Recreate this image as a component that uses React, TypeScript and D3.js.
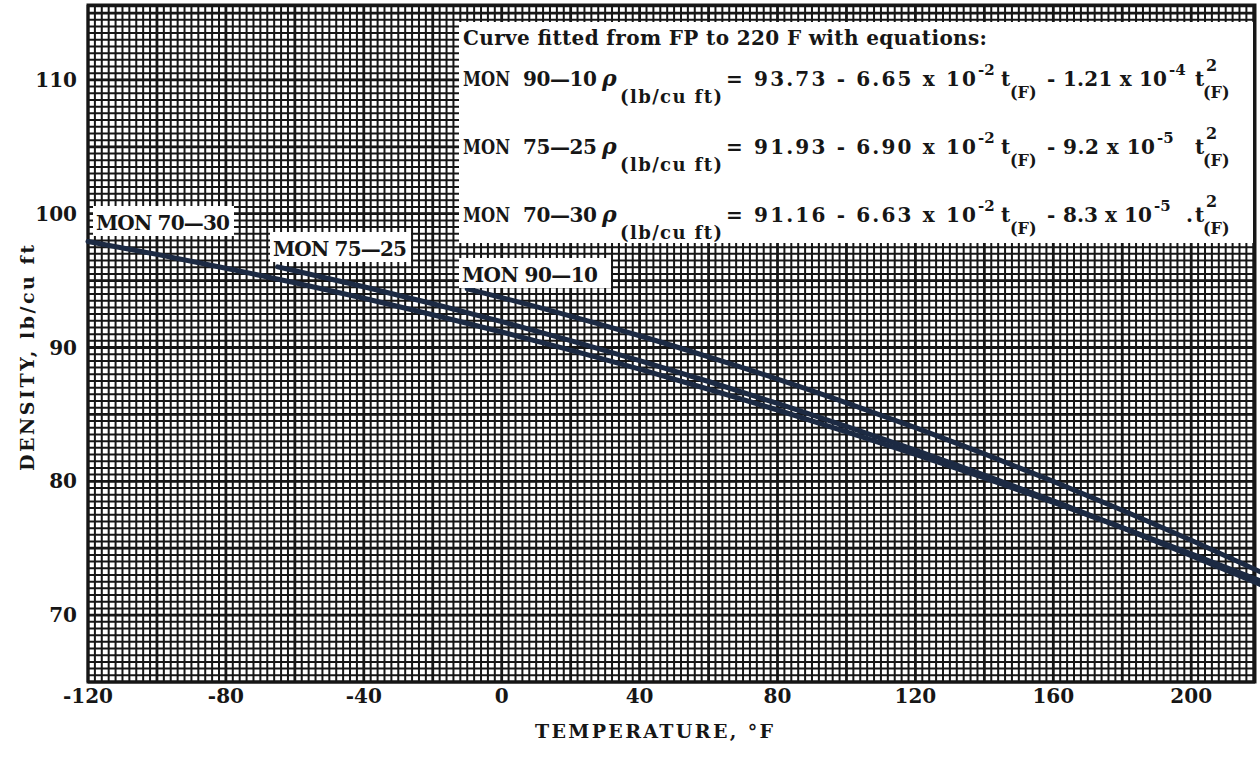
import React from "react";
import * as d3 from "d3";

const W = 1260;
const H = 757;

// Axis tick values
const xTickValues = [-120, -80, -40, 0, 40, 80, 120, 160, 200];
const yTickValues = [70, 80, 90, 100, 110];

// MON 90-10 density curve (°F, lb/cu ft)
const mon9010Temp = [-10, 0, 20, 40, 60, 80, 100, 120, 140, 160, 180, 200, 220];
const mon9010Rho = [94.38, 93.73, 92.35, 90.88, 89.3, 87.64, 85.87, 84.01, 82.05, 79.99, 77.84, 75.59, 73.24];

// MON 75-25 density curve
const mon7525Temp = [-65, -60, -40, -20, 0, 20, 40, 60, 80, 100, 120, 140, 160, 180, 200, 220];
const mon7525Rho = [96.03, 95.74, 94.54, 93.27, 91.93, 90.51, 89.02, 87.46, 85.82, 84.11, 82.33, 80.47, 78.54, 76.53, 74.45, 72.3];

// MON 70-30 density curve
const mon7030Temp = [-120, -100, -80, -60, -40, -20, 0, 20, 40, 60, 80, 100, 120, 140, 160, 180, 200, 220];
const mon7030Rho = [97.92, 96.96, 95.93, 94.84, 93.68, 92.45, 91.16, 89.8, 88.38, 86.88, 85.33, 83.7, 82.01, 80.25, 78.43, 76.54, 74.58, 72.56];

const seriesNames = ["MON 90—10", "MON 75—25", "MON 70—30"];

const FONT = "'DejaVu Serif', 'Liberation Serif', serif";
const INK = "#161616";
const CURVE = "#1c2a43";

const left = 88;
const right = 1255;
const top = 5;
const bottom = 682;

export default function App() {
  const x = d3.scaleLinear().domain([-120, 218.5]).range([left, right]);
  const y = d3.scaleLinear().domain([65, 115.6]).range([bottom, top]);

  const minorX = d3.range(-120, 218.6, 2);
  const minorY = d3.range(65, 115.6, 0.5);

  const line = d3
    .line<[number, number]>()
    .x((d) => x(d[0]))
    .y((d) => y(d[1]))
    .curve(d3.curveMonotoneX);

  const curves = [
    d3.zip(mon9010Temp, mon9010Rho) as [number, number][],
    d3.zip(mon7525Temp, mon7525Rho) as [number, number][],
    d3.zip(mon7030Temp, mon7030Rho) as [number, number][],
  ];

  const isMajorX = (v: number) => Math.abs(((v + 120) % 20 + 20) % 20) < 1e-6;
  const isMajorY = (v: number) => Math.abs((v % 5 + 5) % 5) < 1e-6;

  // equation rows in the key box
  const rows = [
    { name: "90—10", a: "= 93.73 - 6.65 x 10", b: "1.21 x 10", e: "-4", dot: false },
    { name: "75—25", a: "= 91.93 - 6.90 x 10", b: "9.2 x 10", e: "-5", dot: false },
    { name: "70—30", a: "= 91.16 - 6.63 x 10", b: "8.3 x 10", e: "-5", dot: true },
  ];
  const rowBase = [86, 154, 222];
  const bEnd = [1167, 1155, 1152];

  return (
    <svg
      width={W}
      height={H}
      style={{ position: "absolute", left: 0, top: 0, background: "#fff" }}
      fontFamily={FONT}
      fontWeight="bold"
    >
      <rect x={0} y={0} width={W} height={H} fill="#fff" />

      {/* graph-paper grid */}
      <g>
        {minorY.map((v) => (
          <line
            key={"gy" + v}
            x1={left}
            x2={right}
            y1={y(v)}
            y2={y(v)}
            stroke={INK}
            strokeWidth={isMajorY(v) ? 2.8 : 2}
          />
        ))}
        {minorX.map((v) => (
          <line
            key={"gx" + v}
            x1={x(v)}
            x2={x(v)}
            y1={top}
            y2={bottom}
            stroke={INK}
            strokeWidth={isMajorX(v) ? 2.8 : 2}
          />
        ))}
        <rect
          x={left}
          y={top}
          width={right - left}
          height={bottom - top}
          fill="none"
          stroke={INK}
          strokeWidth={3}
        />
      </g>

      {/* density curves */}
      {curves.map((c, i) => (
        <path
          key={seriesNames[i]}
          d={line(c) || ""}
          fill="none"
          stroke={CURVE}
          strokeWidth={5}
          strokeLinecap="round"
        />
      ))}

      {/* curve labels */}
      <g fontSize={20} fill={INK}>
        <rect x={93} y={206} width={141} height={30} fill="#fff" />
        <text x={96} y={230} textLength={134} lengthAdjust="spacing">
          {seriesNames[2]}
        </text>
        <rect x={270} y={232} width={141} height={30} fill="#fff" />
        <text x={273} y={256} textLength={134} lengthAdjust="spacing">
          {seriesNames[1]}
        </text>
        <rect x={459} y={258} width={152} height={30} fill="#fff" />
        <text x={462} y={282} textLength={136} lengthAdjust="spacing">
          {seriesNames[0]}
        </text>
      </g>

      {/* key box with fitted equations */}
      <rect x={459} y={22} width={794} height={221} fill="#fff" />
      <text x={463} y={45} fontSize={20} fill={INK} textLength={524} lengthAdjust="spacing">
        Curve fitted from FP to 220 F with equations:
      </text>
      {rows.map((r, i) => {
        const b = rowBase[i];
        return (
          <g key={r.name} fill={INK}>
            <text x={463} y={b} fontSize={20} textLength={47} lengthAdjust="spacingAndGlyphs">MON</text>
            <text x={523} y={b} fontSize={20} textLength={74} lengthAdjust="spacing">
              {r.name}
            </text>
            <text x={602} y={b} fontSize={22} fontStyle="italic">ρ</text>
            <text x={620} y={b + 17} fontSize={18} textLength={102} lengthAdjust="spacing">
              (lb/cu ft)
            </text>
            <text x={726} y={b} fontSize={20} textLength={250} lengthAdjust="spacing">
              {r.a}
            </text>
            <text x={978} y={b - 11} fontSize={15}>-2</text>
            <text x={1001} y={b} fontSize={20}>t</text>
            <text x={1010} y={b + 12} fontSize={16}>(F)</text>
            <text x={1047} y={b} fontSize={20}>-</text>
            <text x={1063} y={b} fontSize={20} textLength={bEnd[i] - 1063} lengthAdjust="spacing">
              {r.b}
            </text>
            <text x={bEnd[i] + 2} y={b - 11} fontSize={15}>{r.e}</text>
            {r.dot && <text x={1186} y={b} fontSize={20}>.</text>}
            <text x={1195} y={b} fontSize={20}>t</text>
            <text x={1206} y={b - 15} fontSize={16}>2</text>
            <text x={1203} y={b + 12} fontSize={16}>(F)</text>
          </g>
        );
      })}

      {/* y axis */}
      <g fontSize={20} fill={INK}>
        {yTickValues.map((v) => (
          <text key={"yt" + v} x={77} y={y(v)} textAnchor="end" dominantBaseline="central">
            {v}
          </text>
        ))}
        <text
          transform={`translate(27, 358) rotate(-90)`}
          textAnchor="middle"
          dominantBaseline="central"
          fontSize={19}
          textLength={226}
          lengthAdjust="spacing"
        >
          DENSITY,  lb/cu ft
        </text>
      </g>

      {/* x axis */}
      <g fontSize={20} fill={INK}>
        {xTickValues.map((v) => (
          <text key={"xt" + v} x={x(v)} y={703} textAnchor="middle">
            {v}
          </text>
        ))}
        <text x={535} y={738} fontSize={19} textLength={238} lengthAdjust="spacing">
          TEMPERATURE,  °F
        </text>
      </g>
    </svg>
  );
}
